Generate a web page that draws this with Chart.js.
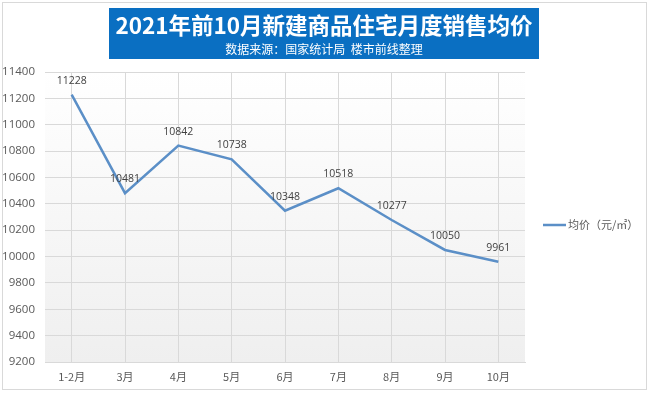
<!DOCTYPE html>
<html>
<head>
<meta charset="utf-8">
<script src="https://cdn.jsdelivr.net/npm/chart.js@4/dist/chart.umd.min.js"></script>
<style>
  body { margin: 0; background: #fff; }
  #wrap { width: 650px; height: 393px; position: relative; }
</style>
</head>
<body>
<div id="wrap"><canvas id="chart" width="650" height="393"></canvas></div>
<script>
// Chart data
const months = ['1-2月', '3月', '4月', '5月', '6月', '7月', '8月', '9月', '10月'];
const avgPrice = [11228, 10481, 10842, 10738, 10348, 10518, 10277, 10050, 9961];
const seriesName = '均价（元/㎡）';
const titleText = '2021年前10月新建商品住宅月度销售均价';
const subtitleText = '数据来源：国家统计局  楼市前线整理';

const lineColor = '#5b8fc7';
const cjk = '"Noto Sans CJK SC", "Noto Sans", sans-serif';

// Frame, title box and plot background
const decorPlugin = {
    id: 'decor',
    beforeDraw(chart) {
        const ctx = chart.ctx;
        const a = chart.chartArea;
        ctx.save();
        ctx.fillStyle = '#fff';
        ctx.fillRect(0, 0, chart.width, chart.height);
        ctx.strokeStyle = '#d9d9d9';
        ctx.lineWidth = 1;
        ctx.strokeRect(2.5, 2.5, 644, 387);

        // plot area gradient
        const g = ctx.createLinearGradient(0, a.top, 0, a.bottom);
        g.addColorStop(0, '#ffffff');
        g.addColorStop(1, '#efefef');
        ctx.fillStyle = g;
        ctx.fillRect(a.left, a.top, a.right - a.left, a.bottom - a.top);
        ctx.restore();
    },
    afterDraw(chart) {
        const ctx = chart.ctx;
        ctx.save();
        // title box
        ctx.fillStyle = '#0a6fc2';
        ctx.fillRect(109, 8, 430, 51);
        ctx.fillStyle = '#fff';
        ctx.textAlign = 'center';
        ctx.textBaseline = 'middle';
        ctx.font = 'bold 22.5px ' + cjk;
        ctx.fillText(titleText, 324, 25);
        ctx.font = '12px ' + cjk;
        ctx.fillText(subtitleText, 324, 49);

        // legend
        ctx.strokeStyle = lineColor;
        ctx.lineWidth = 2.5;
        ctx.beginPath();
        ctx.moveTo(543, 225);
        ctx.lineTo(566, 225);
        ctx.stroke();
        ctx.fillStyle = '#595959';
        ctx.textAlign = 'left';
        ctx.font = '11px ' + cjk;
        ctx.fillText(seriesName, 568, 225);

        // data labels
        const meta = chart.getDatasetMeta(0);
        ctx.fillStyle = '#404040';
        ctx.textAlign = 'center';
        ctx.font = '10.5px "Open Sans", "Noto Sans", sans-serif';
        meta.data.forEach((pt, i) => {
            ctx.fillText(String(avgPrice[i]), pt.x, pt.y - 14);
        });
        ctx.restore();
    }
};

const ctx = document.getElementById('chart').getContext('2d');
new Chart(ctx, {
    type: 'line',
    data: {
        labels: months,
        datasets: [{
            label: seriesName,
            data: avgPrice,
            borderColor: lineColor,
            borderWidth: 2.5,
            pointRadius: 0,
            tension: 0,
            fill: false
        }]
    },
    options: {
        responsive: false,
        animation: false,
        layout: { padding: { top: 72, right: 125, left: 0, bottom: 0 } },
        plugins: {
            legend: { display: false },
            tooltip: { enabled: false }
        },
        scales: {
            x: {
                offset: true,
                grid: { offset: false, color: '#d9d9d9', drawTicks: false },
                border: { color: '#d9d9d9' },
                ticks: {
                    color: '#595959',
                    font: { size: 11, family: cjk },
                    padding: 8
                },
                afterFit(scale) { scale.height = 31; }
            },
            y: {
                min: 9200,
                max: 11400,
                ticks: {
                    stepSize: 200,
                    color: '#595959',
                    font: { size: 11.5, family: '"Open Sans", "Noto Sans", sans-serif' },
                    padding: 10,
                    callback: v => String(v)
                },
                grid: { color: '#d9d9d9', drawTicks: false },
                border: { display: false },
                afterFit(scale) { scale.width = 45; }
            }
        }
    },
    plugins: [decorPlugin]
});
</script>
</body>
</html>
